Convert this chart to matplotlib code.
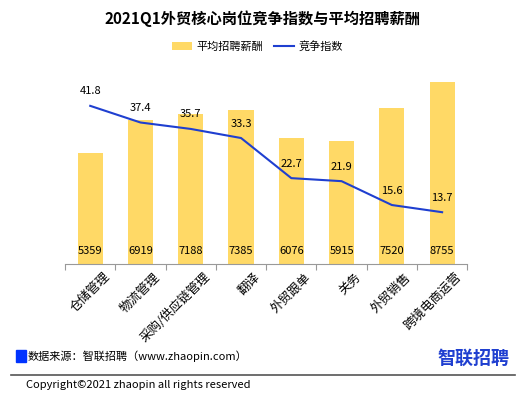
import matplotlib.pyplot as plt
import numpy as np

plt.rcParams['font.family'] = ['Noto Sans CJK SC', 'DejaVu Sans']

jobs = ["仓储管理", "物流管理", "采购/供应链管理", "翻译", "外贸跟单", "关务", "外贸销售", "跨境电商运营"]
salary = [5359, 6919, 7188, 7385, 6076, 5915, 7520, 8755]
index = [41.8, 37.4, 35.7, 33.3, 22.7, 21.9, 15.6, 13.7]

fig = plt.figure(figsize=(5.25, 4.05), dpi=100)
ax = fig.add_axes([0.124, 0.348, 0.766, 0.514])
x = np.arange(len(jobs))
ax.bar(x, salary, width=0.5, color='#FFD966', label='平均招聘薪酬')
ax.set_ylim(0, 10000)
ax.set_xlim(-0.5, len(jobs) - 0.5)
for i, v in enumerate(salary):
    ax.text(i, 400, str(v), ha='center', va='bottom', fontsize=8)
ax.set_yticks([])
for s in ['top', 'right', 'left']:
    ax.spines[s].set_visible(False)
ax.spines['bottom'].set_color('#999999')
ax.set_xticks(np.arange(len(jobs) + 1) - 0.5, minor=False)
ax.set_xticklabels([])
ax.tick_params(axis='x', length=4, color='#999999')
for i, lab in enumerate(jobs):
    ax.text(i + 0.25, -300, lab, rotation=45, ha='right', va='top', fontsize=9,
            rotation_mode='anchor')

ax2 = ax.twinx()
ax2.plot(x, index, color='#1F3FD0', lw=1.5, label='竞争指数')
ax2.set_ylim(0, 55)
ax2.axis('off')
for i, v in enumerate(index):
    ax2.text(i, v + 2.5, f"{v:.1f}", ha='center', va='bottom', fontsize=8)

h1, l1 = ax.get_legend_handles_labels()
h2, l2 = ax2.get_legend_handles_labels()
fig.legend(h1 + h2, l1 + l2, loc='center', bbox_to_anchor=(0.49, 0.885), ncol=2,
           frameon=False, fontsize=8, handlelength=1.8, columnspacing=1.0, handletextpad=0.4)

fig.text(0.5, 0.955, "2021Q1外贸核心岗位竞争指数与平均招聘薪酬", ha='center', va='center',
         fontsize=11, fontweight='bold')
fig.patches.append(plt.Rectangle((0.03, 0.105), 0.02, 0.03, color='#0033FF', transform=fig.transFigure))
fig.text(0.053, 0.12, "数据来源：智联招聘（www.zhaopin.com）", fontsize=8, va='center')
fig.text(0.97, 0.115, "智联招聘", fontsize=13, fontweight='bold', color='#1F3FD0', ha='right', va='center')
fig.add_artist(plt.Line2D([0.02, 0.98], [0.075, 0.075], color='#555555', lw=1.2))
fig.text(0.05, 0.05, "Copyright©2021 zhaopin all rights reserved", fontsize=8, va='center')

fig.savefig("out.png", dpi=100)
